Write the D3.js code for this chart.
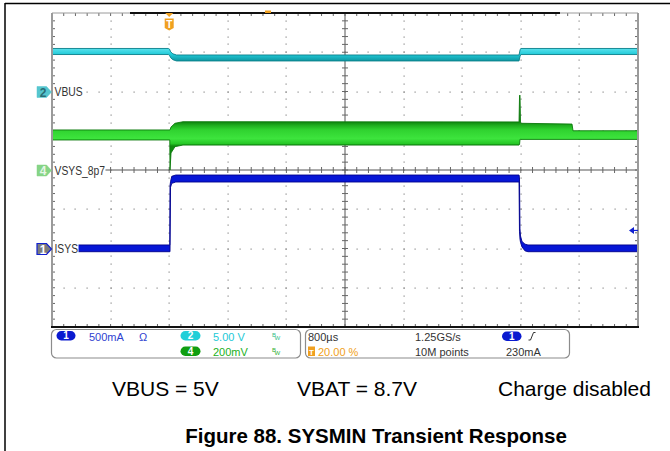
<!DOCTYPE html>
<html><head><meta charset="utf-8">
<script src="https://cdn.jsdelivr.net/npm/d3@7"></script>
<style>body{margin:0;background:#fff}svg{display:block}</style>
</head><body><svg id="c" width="670" height="451"></svg>
<script>
// ---------- data ----------
const timePerDiv = 0.8;          // ms / div (800µs)
const triggerPct = 20;           // trigger position %
const hDivs = 10, vDivs = 8;

// channel setup
const chIds     = ["1", "2", "4"];
const chNames   = ["ISYS", "VBUS", "VSYS_8p7"];
const chPerDiv  = [0.5, 5, 0.2];     // A/div, V/div, V/div
const chPosDiv  = [-2, 2, 0];        // marker position in divisions
const chOffset  = [0, 0, 8.7];       // offset

// CH2 VBUS envelope (V) vs time (ms)
const vbusT  = [-1.6, -0.012, 0.004, 0.02, 0.05, 0.10, 4.776, 4.79, 4.80, 6.4];
const vbusHi = [5.48, 5.48, 5.40, 5.05, 4.80, 4.65, 4.65, 5.30, 5.48, 5.48];
const vbusLo = [4.71, 4.71, 4.60, 4.30, 4.05, 3.89, 3.89, 4.50, 4.71, 4.71];

// CH4 VSYS envelope (V)
const vsysT  = [-1.6, 0.008, 0.011, 0.025, 0.079, 0.188, 4.776, 4.783, 4.789, 4.796, 4.803, 5.499, 5.513, 6.4];
const vsysHi = [8.904, 8.904, 8.904, 8.919, 8.938, 8.946, 8.945, 9.08, 9.082, 8.94, 8.938, 8.934, 8.900, 8.900];
const vsysLo = [8.853, 8.853, 8.700, 8.787, 8.819, 8.827, 8.827, 8.83, 8.856, 8.856, 8.856, 8.856, 8.856, 8.856];

// CH1 ISYS envelope (A)
const isysT  = [-1.6, 0.008, 0.011, 0.018, 0.035, 0.09, 4.776, 4.782, 4.789, 4.796, 4.816, 4.857, 4.898, 6.4];
const isysHi = [0.045, 0.045, 0.80, 0.85, 0.92, 0.936, 0.936, 0.90, 0.25, 0.16, 0.09, 0.055, 0.045, 0.045];
const isysLo = [-0.041, -0.041, -0.041, 0.78, 0.83, 0.847, 0.847, 0.22, 0.12, 0.08, 0.02, -0.03, -0.041, -0.041];

const trigLevel = 0.23;  // A on CH1

// status bar texts
const stCh = [["1", "500mA", "Ω"], ["2", "5.00 V", "BW"], ["4", "200mV", "BW"]];
const stTime = ["800µs", "20.00 %", "1.25GS/s", "10M points", "1", "230mA"];
const notes = ["VBUS = 5V", "VBAT = 8.7V", "Charge disabled"];
const title = "Figure 88. SYSMIN Transient Response";

// ---------- drawing ----------
const svg = d3.select("#c");
const L = 52, R = 638, T = 13, B = 327;
const tMin = -hDivs * timePerDiv * triggerPct / 100;
const x = d3.scaleLinear().domain([tMin, tMin + hDivs * timePerDiv]).range([L, R]);
const yDiv = d3.scaleLinear().domain([-vDivs / 2, vDivs / 2]).range([B, T]);
const xDiv = d3.scaleLinear().domain([0, hDivs]).range([L, R]);
const chY = i => v => yDiv((v - chOffset[i]) / chPerDiv[i] + chPosDiv[i]);

const defs = svg.append("defs");
function grad(id, y1, y2, stops) {
  const gr = defs.append("linearGradient").attr("id", id).attr("gradientUnits", "userSpaceOnUse")
    .attr("x1", 0).attr("x2", 0).attr("y1", y1).attr("y2", y2);
  stops.forEach(s => gr.append("stop").attr("offset", s[0]).attr("stop-color", s[1]));
}
grad("gGreen", 121, 146, [[0, "#0a7a0a"], [0.18, "#1fae1f"], [0.35, "#2fd22f"], [0.7, "#3de43d"], [0.9, "#27c827"], [1, "#0f8a0f"]]);
grad("gCyan", 48, 62, [[0, "#5ee3ee"], [0.45, "#22cbd9"], [1, "#0b8e98"]]);

// outer frame
svg.append("line").attr("x1", 5).attr("x2", 670).attr("y1", 3.5).attr("y2", 3.5).attr("stroke", "#000").attr("stroke-width", 1.5);
svg.append("line").attr("x1", 5).attr("x2", 5).attr("y1", 3).attr("y2", 451).attr("stroke", "#000").attr("stroke-width", 1.5);

const g = svg.append("g");
// dotted grid
const dots = [];
for (let i = 1; i < hDivs; i++) {
  if (i === hDivs / 2) continue;
  for (let k = 1; k < vDivs * 5; k++) dots.push([xDiv(i), yDiv(-4 + k / 5)]);
}
for (let j = 1; j < vDivs; j++) {
  if (j === vDivs / 2) continue;
  for (let k = 1; k < hDivs * 5; k++) dots.push([xDiv(k / 5), yDiv(-4 + j)]);
}
g.selectAll("rect.dot").data(dots).join("rect").attr("class", "dot")
  .attr("x", d => Math.round(d[0]) - 0.5).attr("y", d => Math.round(d[1]) - 0.5)
  .attr("width", 1.2).attr("height", 1.2).attr("fill", "#8a8a8a");

// center cross with minor ticks
const cx = xDiv(hDivs / 2), cy = yDiv(0);
g.append("line").attr("x1", L).attr("x2", R).attr("y1", cy).attr("y2", cy).attr("stroke", "#555").attr("stroke-width", 1);
g.append("line").attr("x1", cx).attr("x2", cx).attr("y1", T).attr("y2", B).attr("stroke", "#555").attr("stroke-width", 1);
const tick = [];
for (let k = 1; k < hDivs * 5; k++) {
  const xx = xDiv(k / 5);
  tick.push([xx, cy - 3, xx, cy + 3]);
  tick.push([xx, T, xx, T + 3]);
  tick.push([xx, B, xx, B - 3]);
}
for (let k = 1; k < vDivs * 5; k++) {
  const yy = yDiv(-4 + k / 5);
  tick.push([cx - 3, yy, cx + 3, yy]);
  tick.push([L, yy, L + 3, yy]);
  tick.push([R, yy, R - 3, yy]);
}
g.selectAll("line.tk").data(tick).join("line").attr("class", "tk")
  .attr("x1", d => d[0]).attr("y1", d => d[1]).attr("x2", d => d[2]).attr("y2", d => d[3])
  .attr("stroke", "#666").attr("stroke-width", 1);

// traces
svg.append("clipPath").attr("id", "clip").append("rect").attr("x", L).attr("y", T).attr("width", R - L).attr("height", B - T);
const tr = svg.append("g").attr("clip-path", "url(#clip)");
function trace(i, ts, hi, lo, fill, edge) {
  const yy = chY(i);
  const data = ts.map((t, k) => ({ t, hi: hi[k], lo: lo[k] }));
  tr.append("path").datum(data)
    .attr("d", d3.area().x(d => x(d.t)).y0(d => yy(d.lo)).y1(d => yy(d.hi)))
    .attr("fill", fill).attr("stroke", edge).attr("stroke-width", 0.9);
}
trace(1, vbusT, vbusHi, vbusLo, "url(#gCyan)", "#0a7f8a");
trace(2, vsysT, vsysHi, vsysLo, "url(#gGreen)", "#0c7a0c");
trace(0, isysT, isysHi, isysLo, "#0616d6", "#00008c");

// border
svg.append("line").attr("x1", L).attr("x2", L).attr("y1", T).attr("y2", B).attr("stroke", "#9a9a9a").attr("stroke-width", 2);
svg.append("line").attr("x1", R).attr("x2", R).attr("y1", T).attr("y2", B).attr("stroke", "#9a9a9a").attr("stroke-width", 2);
svg.append("line").attr("x1", L).attr("x2", R).attr("y1", T).attr("y2", T).attr("stroke", "#9a9a9a").attr("stroke-width", 1);
svg.append("line").attr("x1", L - 1).attr("x2", R + 1).attr("y1", B).attr("y2", B).attr("stroke", "#111").attr("stroke-width", 2);
svg.append("line").attr("x1", 130).attr("x2", 560).attr("y1", T).attr("y2", T).attr("stroke", "#111").attr("stroke-width", 2);
svg.append("rect").attr("x", 265).attr("y", 10.5).attr("width", 6).attr("height", 2.5).attr("fill", "#f0a020");

// trigger marker T
const tx = x(0);
svg.append("path").attr("d", `M${tx - 4},${T} L${tx + 4},${T} L${tx},${T + 4} Z`).attr("fill", "#f0a020");
svg.append("path").attr("d", `M${tx - 4.5},${T + 5.5} L${tx + 4.5},${T + 5.5} L${tx + 4.5},${T + 15} L${tx},${T + 17.5} L${tx - 4.5},${T + 15} Z`).attr("fill", "#f0a020");
svg.append("text").attr("x", tx).attr("y", T + 14.5).attr("text-anchor", "middle").attr("fill", "#fff")
  .attr("font-family", "Liberation Sans, Arial, sans-serif").attr("font-size", 10).attr("font-weight", "bold").text("T");

// trigger level arrow
const ty = chY(0)(trigLevel);
svg.append("path").attr("d", `M${R - 9},${ty} L${R - 4},${ty - 3.5} L${R - 4},${ty + 3.5} Z`).attr("fill", "#1020d0");
svg.append("line").attr("x1", R - 5).attr("x2", R).attr("y1", ty).attr("y2", ty).attr("stroke", "#1020d0").attr("stroke-width", 1.2);

// channel markers and labels
const mkFill = ["#7c7c7c", "#55c6cf", "#86d486"];
const mkStroke = ["#1020d0", "#55c6cf", "#86d486"];
const mkText = ["#fff", "#2b6d74", "#e6f6e6"];
const labFont = "'Liberation Sans', Arial, sans-serif";
const sx = 0.86;
chIds.forEach((id, i) => {
  const c = yDiv(chPosDiv[i]) + 0.5;
  const lab = svg.append("text").attr("x", 0).attr("y", 0).attr("font-family", labFont).attr("font-size", 12)
    .attr("fill", "#333").attr("transform", `translate(54.5,${c + 4.2}) scale(${sx},1)`).text(chNames[i]);
  const w = lab.node().getComputedTextLength() * sx;
  svg.insert("rect", function () { return lab.node(); }).attr("x", 53).attr("y", c - 6).attr("width", w + 2).attr("height", 12).attr("fill", "#fff");
  svg.append("path").attr("d", `M37,${c - 5.5} L46.5,${c - 5.5} L51.5,${c} L46.5,${c + 5.5} L37,${c + 5.5} Z`)
    .attr("fill", mkFill[i]).attr("stroke", mkStroke[i]).attr("stroke-width", i === 0 ? 1.2 : 0.5);
  svg.append("text").attr("x", 43).attr("y", c + 4.5).attr("text-anchor", "middle").attr("font-family", "Liberation Sans, Arial, sans-serif")
    .attr("font-size", 12).attr("font-weight", "bold").attr("fill", mkText[i]).text(id);
});

// status bar
const sf = "Liberation Sans, Arial, sans-serif";
svg.append("rect").attr("x", 51.5).attr("y", 329.5).attr("width", 249).attr("height", 28.5).attr("rx", 5).attr("fill", "#fff").attr("stroke", "#8c8c8c").attr("stroke-width", 1.2);
svg.append("rect").attr("x", 305.5).attr("y", 329.5).attr("width", 264).attr("height", 28.5).attr("rx", 5).attr("fill", "#fff").attr("stroke", "#8c8c8c").attr("stroke-width", 1.2);
function oval(x0, y0, w, col, txt) {
  svg.append("rect").attr("x", x0).attr("y", y0).attr("width", w).attr("height", 9.5).attr("rx", 4.75).attr("fill", col);
  svg.append("text").attr("x", x0 + w / 2).attr("y", y0 + 8.3).attr("text-anchor", "middle").attr("font-family", sf)
    .attr("font-size", 10).attr("font-weight", "bold").attr("fill", "#fff").text(txt);
}
function stxt(x0, y0, col, txt, size) {
  return svg.append("text").attr("x", x0).attr("y", y0).attr("font-family", sf).attr("font-size", size || 11).attr("fill", col).text(txt);
}
function bw(x0, y0, col) {
  svg.append("text").attr("x", x0).attr("y", y0 - 3).attr("font-family", sf).attr("font-size", 6).attr("fill", col).text("B");
  svg.append("text").attr("x", x0 + 2.5).attr("y", y0 + 0.5).attr("font-family", sf).attr("font-size", 6).attr("fill", col).text("W");
}
const r1 = 340.5, r2 = 355.5;
oval(56.5, 331, 19, "#0a1ad0", stCh[0][0]);
stxt(89, r1, "#2f3fd0", stCh[0][1]);
stxt(139, r1, "#2f3fd0", stCh[0][2]);
oval(180.5, 331, 20, "#22cfd8", stCh[1][0]);
stxt(213, r1, "#22c9d6", stCh[1][1]);
bw(272, r1 - 1, "#33c08a");
oval(180.5, 346.5, 20, "#109e10", stCh[2][0]);
stxt(213, r2, "#22b022", stCh[2][1]);
bw(272, r2 - 1, "#33b033");

stxt(308, r1, "#333", stTime[0]);
svg.append("rect").attr("x", 308).attr("y", 346.5).attr("width", 7).attr("height", 9.5).attr("fill", "#f0a020");
svg.append("text").attr("x", 311.5).attr("y", 354.5).attr("text-anchor", "middle").attr("font-family", sf).attr("font-size", 8).attr("font-weight", "bold").attr("fill", "#fff").text("T");
stxt(318, r2, "#f0a020", stTime[1]);
stxt(415, r1, "#333", stTime[2]);
stxt(415, r2, "#333", stTime[3]);
oval(502, 331.5, 19.5, "#0a1ad0", stTime[4]);
svg.append("path").attr("d", "M528.5,340 L530.5,340 L533.5,332.5 L535.5,332.5").attr("fill", "none").attr("stroke", "#333").attr("stroke-width", 1);
stxt(506, r2, "#333", stTime[5]);

// notes & title
const nx = [112, 297, 498];
notes.forEach((n, i) => {
  svg.append("text").attr("x", nx[i]).attr("y", 396).attr("font-family", "Liberation Sans, Arial, sans-serif")
    .attr("font-size", 21).attr("fill", "#000").text(n);
});
svg.append("text").attr("x", 376).attr("y", 443).attr("text-anchor", "middle").attr("font-family", "Liberation Sans, Arial, sans-serif")
  .attr("font-size", 20.5).attr("font-weight", "bold").attr("fill", "#000").text(title);
</script></body></html>
